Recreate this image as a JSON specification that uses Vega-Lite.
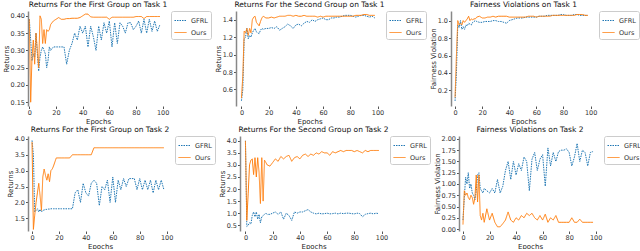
{
"$schema": "https://vega.github.io/schema/vega-lite/v6.json",
"padding": {"left": 2, "top": 1, "right": 0, "bottom": 0},
"background": "white",
"datasets": {
"p1": [
{"e":0,"GFRL":0.39,"Ours":0.39},{"e":1,"GFRL":0.33,"Ours":0.15},{"e":2,"GFRL":0.27,"Ours":0.28},{"e":3,"GFRL":0.29,"Ours":0.33},{"e":4,"GFRL":0.28,"Ours":0.26},{"e":5,"GFRL":0.35,"Ours":0.35},{"e":6,"GFRL":0.29,"Ours":0.30},{"e":7,"GFRL":0.24,"Ours":0.25},{"e":8,"GFRL":0.28,"Ours":0.40},{"e":9,"GFRL":0.30,"Ours":0.39},{"e":10,"GFRL":0.31,"Ours":0.32},{"e":11,"GFRL":0.30,"Ours":0.36},{"e":12,"GFRL":0.29,"Ours":0.32},{"e":13,"GFRL":0.25,"Ours":0.36},{"e":14,"GFRL":0.27,"Ours":0.355},{"e":15,"GFRL":0.31,"Ours":0.36},{"e":16,"GFRL":0.30,"Ours":0.375},
{"e":18,"GFRL":0.31,"Ours":0.385},{"e":20,"GFRL":0.31,"Ours":0.39},{"e":22,"GFRL":0.31,"Ours":0.395},{"e":24,"GFRL":0.31,"Ours":0.39},{"e":26,"GFRL":0.31,"Ours":0.39},{"e":28,"GFRL":0.26,"Ours":0.392},{"e":30,"GFRL":0.30,"Ours":0.392},{"e":32,"GFRL":0.32,"Ours":0.393},{"e":34,"GFRL":0.35,"Ours":0.393},{"e":36,"GFRL":0.33,"Ours":0.393},{"e":38,"GFRL":0.37,"Ours":0.395},{"e":40,"GFRL":0.35,"Ours":0.40},{"e":42,"GFRL":0.37,"Ours":0.405},{"e":44,"GFRL":0.31,"Ours":0.405},{"e":46,"GFRL":0.37,"Ours":0.397},{"e":48,"GFRL":0.34,"Ours":0.396},{"e":50,"GFRL":0.30,"Ours":0.396},{"e":52,"GFRL":0.37,"Ours":0.396},{"e":54,"GFRL":0.33,"Ours":0.396},{"e":56,"GFRL":0.38,"Ours":0.396},{"e":58,"GFRL":0.35,"Ours":0.396},{"e":60,"GFRL":0.385,"Ours":0.39},{"e":62,"GFRL":0.31,"Ours":0.396},{"e":64,"GFRL":0.38,"Ours":0.396},{"e":66,"GFRL":0.32,"Ours":0.396},{"e":68,"GFRL":0.38,"Ours":0.396},{"e":70,"GFRL":0.37,"Ours":0.396},{"e":72,"GFRL":0.35,"Ours":0.396},{"e":74,"GFRL":0.38,"Ours":0.396},{"e":76,"GFRL":0.38,"Ours":0.396},{"e":78,"GFRL":0.36,"Ours":0.396},{"e":80,"GFRL":0.37,"Ours":0.398},{"e":82,"GFRL":0.385,"Ours":0.398},{"e":84,"GFRL":0.35,"Ours":0.398},{"e":86,"GFRL":0.39,"Ours":0.392},{"e":88,"GFRL":0.35,"Ours":0.398},{"e":90,"GFRL":0.39,"Ours":0.398},{"e":92,"GFRL":0.355,"Ours":0.398},{"e":94,"GFRL":0.385,"Ours":0.398},{"e":96,"GFRL":0.355,"Ours":0.398},{"e":98,"GFRL":0.375,"Ours":0.398}
],
"p2": [
{"e":0,"GFRL":0.47,"Ours":0.50},{"e":1,"GFRL":0.60,"Ours":0.75},{"e":2,"GFRL":1.18,"Ours":1.27},{"e":3,"GFRL":1.20,"Ours":1.25},{"e":4,"GFRL":1.30,"Ours":1.30},{"e":5,"GFRL":1.18,"Ours":1.22},{"e":6,"GFRL":1.22,"Ours":1.30},{"e":7,"GFRL":1.20,"Ours":1.25},{"e":8,"GFRL":1.25,"Ours":1.40},{"e":9,"GFRL":1.28,"Ours":1.43},{"e":10,"GFRL":1.30,"Ours":1.44},{"e":11,"GFRL":1.26,"Ours":1.37},{"e":12,"GFRL":1.25,"Ours":1.35},{"e":13,"GFRL":1.24,"Ours":1.33},{"e":14,"GFRL":1.28,"Ours":1.38},{"e":15,"GFRL":1.30,"Ours":1.42},{"e":16,"GFRL":1.29,"Ours":1.44},
{"e":18,"GFRL":1.30,"Ours":1.42},{"e":20,"GFRL":1.30,"Ours":1.42},{"e":22,"GFRL":1.31,"Ours":1.43},{"e":24,"GFRL":1.30,"Ours":1.42},{"e":26,"GFRL":1.32,"Ours":1.43},{"e":28,"GFRL":1.28,"Ours":1.44},{"e":30,"GFRL":1.30,"Ours":1.44},{"e":32,"GFRL":1.32,"Ours":1.44},{"e":34,"GFRL":1.35,"Ours":1.45},{"e":36,"GFRL":1.33,"Ours":1.45},{"e":38,"GFRL":1.30,"Ours":1.44},{"e":40,"GFRL":1.34,"Ours":1.45},{"e":42,"GFRL":1.35,"Ours":1.44},{"e":44,"GFRL":1.33,"Ours":1.44},{"e":46,"GFRL":1.36,"Ours":1.45},{"e":48,"GFRL":1.38,"Ours":1.44},{"e":50,"GFRL":1.37,"Ours":1.44},{"e":52,"GFRL":1.40,"Ours":1.44},{"e":54,"GFRL":1.38,"Ours":1.44},{"e":56,"GFRL":1.40,"Ours":1.43},{"e":58,"GFRL":1.41,"Ours":1.44},{"e":60,"GFRL":1.42,"Ours":1.43},{"e":62,"GFRL":1.40,"Ours":1.44},{"e":64,"GFRL":1.40,"Ours":1.44},{"e":66,"GFRL":1.42,"Ours":1.44},{"e":68,"GFRL":1.42,"Ours":1.44},{"e":70,"GFRL":1.43,"Ours":1.44},{"e":72,"GFRL":1.43,"Ours":1.44},{"e":74,"GFRL":1.44,"Ours":1.44},{"e":76,"GFRL":1.45,"Ours":1.44},{"e":78,"GFRL":1.45,"Ours":1.44},{"e":80,"GFRL":1.45,"Ours":1.44},{"e":82,"GFRL":1.44,"Ours":1.44},{"e":84,"GFRL":1.43,"Ours":1.45},{"e":86,"GFRL":1.44,"Ours":1.45},{"e":88,"GFRL":1.45,"Ours":1.45},{"e":90,"GFRL":1.45,"Ours":1.46},{"e":92,"GFRL":1.44,"Ours":1.46},{"e":94,"GFRL":1.43,"Ours":1.45},{"e":96,"GFRL":1.44,"Ours":1.45},{"e":98,"GFRL":1.42,"Ours":1.45}
],
"p3": [
{"e":0,"GFRL":0.08,"Ours":0.12},{"e":1,"GFRL":0.40,"Ours":0.60},{"e":2,"GFRL":0.95,"Ours":1.00},{"e":3,"GFRL":0.92,"Ours":0.95},{"e":4,"GFRL":1.00,"Ours":0.97},{"e":5,"GFRL":0.90,"Ours":0.95},{"e":6,"GFRL":0.93,"Ours":1.00},{"e":7,"GFRL":0.90,"Ours":0.98},{"e":8,"GFRL":0.95,"Ours":1.00},{"e":9,"GFRL":0.94,"Ours":1.02},{"e":10,"GFRL":0.97,"Ours":1.05},{"e":11,"GFRL":0.96,"Ours":1.00},{"e":12,"GFRL":0.95,"Ours":1.02},{"e":13,"GFRL":0.98,"Ours":1.01},{"e":14,"GFRL":0.99,"Ours":1.02},{"e":15,"GFRL":1.00,"Ours":1.02},{"e":16,"GFRL":0.99,"Ours":1.04},
{"e":18,"GFRL":0.98,"Ours":1.05},{"e":20,"GFRL":0.98,"Ours":1.03},{"e":22,"GFRL":0.99,"Ours":1.03},{"e":24,"GFRL":0.99,"Ours":1.04},{"e":26,"GFRL":0.99,"Ours":1.04},{"e":28,"GFRL":1.00,"Ours":1.05},{"e":30,"GFRL":1.00,"Ours":1.04},{"e":32,"GFRL":0.99,"Ours":1.05},{"e":34,"GFRL":0.99,"Ours":1.05},{"e":36,"GFRL":0.98,"Ours":1.05},{"e":38,"GFRL":0.97,"Ours":1.05},{"e":40,"GFRL":1.00,"Ours":1.04},{"e":42,"GFRL":1.01,"Ours":1.04},{"e":44,"GFRL":1.02,"Ours":1.04},{"e":46,"GFRL":1.03,"Ours":1.04},{"e":48,"GFRL":1.03,"Ours":1.04},{"e":50,"GFRL":1.03,"Ours":1.04},{"e":52,"GFRL":1.04,"Ours":1.04},{"e":54,"GFRL":1.04,"Ours":1.05},{"e":56,"GFRL":1.04,"Ours":1.05},{"e":58,"GFRL":1.04,"Ours":1.05},{"e":60,"GFRL":1.04,"Ours":1.04},{"e":62,"GFRL":1.05,"Ours":1.05},{"e":64,"GFRL":1.05,"Ours":1.05},{"e":66,"GFRL":1.05,"Ours":1.05},{"e":68,"GFRL":1.06,"Ours":1.05},{"e":70,"GFRL":1.06,"Ours":1.05},{"e":72,"GFRL":1.06,"Ours":1.06},{"e":74,"GFRL":1.06,"Ours":1.06},{"e":76,"GFRL":1.06,"Ours":1.06},{"e":78,"GFRL":1.07,"Ours":1.06},{"e":80,"GFRL":1.07,"Ours":1.06},{"e":82,"GFRL":1.06,"Ours":1.06},{"e":84,"GFRL":1.06,"Ours":1.06},{"e":86,"GFRL":1.06,"Ours":1.06},{"e":88,"GFRL":1.07,"Ours":1.06},{"e":90,"GFRL":1.07,"Ours":1.07},{"e":92,"GFRL":1.06,"Ours":1.07},{"e":94,"GFRL":1.06,"Ours":1.07},{"e":96,"GFRL":1.06,"Ours":1.06},{"e":98,"GFRL":1.06,"Ours":1.06}
],
"p4": [
{"e":0,"GFRL":3.95,"Ours":3.90},{"e":1,"GFRL":3.50,"Ours":1.15},{"e":2,"GFRL":1.70,"Ours":1.60},{"e":3,"GFRL":1.75,"Ours":2.00},{"e":4,"GFRL":1.80,"Ours":2.30},{"e":5,"GFRL":1.70,"Ours":2.60},{"e":6,"GFRL":1.78,"Ours":2.20},{"e":7,"GFRL":1.70,"Ours":1.75},{"e":8,"GFRL":1.75,"Ours":2.80},{"e":9,"GFRL":1.76,"Ours":3.05},{"e":10,"GFRL":1.78,"Ours":2.85},{"e":11,"GFRL":1.78,"Ours":2.70},{"e":12,"GFRL":1.79,"Ours":2.90},{"e":13,"GFRL":1.79,"Ours":2.65},{"e":14,"GFRL":1.80,"Ours":3.00},{"e":15,"GFRL":1.80,"Ours":3.05},{"e":16,"GFRL":1.80,"Ours":3.15},
{"e":18,"GFRL":1.80,"Ours":3.40},{"e":20,"GFRL":1.80,"Ours":3.40},{"e":22,"GFRL":1.80,"Ours":3.40},{"e":24,"GFRL":1.80,"Ours":3.40},{"e":26,"GFRL":1.80,"Ours":3.40},{"e":28,"GFRL":1.80,"Ours":3.40},{"e":30,"GFRL":1.80,"Ours":3.50},{"e":32,"GFRL":2.30,"Ours":3.50},{"e":34,"GFRL":2.40,"Ours":3.50},{"e":36,"GFRL":2.00,"Ours":3.50},{"e":38,"GFRL":2.60,"Ours":3.50},{"e":40,"GFRL":2.30,"Ours":3.50},{"e":42,"GFRL":2.20,"Ours":3.50},{"e":44,"GFRL":2.60,"Ours":3.50},{"e":46,"GFRL":2.70,"Ours":3.72},{"e":48,"GFRL":2.60,"Ours":3.72},{"e":50,"GFRL":1.90,"Ours":3.72},{"e":52,"GFRL":2.50,"Ours":3.72},{"e":54,"GFRL":2.40,"Ours":3.72},{"e":56,"GFRL":2.70,"Ours":3.72},{"e":58,"GFRL":2.00,"Ours":3.72},{"e":60,"GFRL":2.80,"Ours":3.72},{"e":62,"GFRL":2.00,"Ours":3.72},{"e":64,"GFRL":2.70,"Ours":3.72},{"e":66,"GFRL":2.40,"Ours":3.72},{"e":68,"GFRL":2.75,"Ours":3.72},{"e":70,"GFRL":2.50,"Ours":3.72},{"e":72,"GFRL":2.75,"Ours":3.72},{"e":74,"GFRL":2.75,"Ours":3.72},{"e":76,"GFRL":2.75,"Ours":3.72},{"e":78,"GFRL":2.40,"Ours":3.72},{"e":80,"GFRL":2.75,"Ours":3.72},{"e":82,"GFRL":2.40,"Ours":3.72},{"e":84,"GFRL":2.70,"Ours":3.72},{"e":86,"GFRL":2.40,"Ours":3.72},{"e":88,"GFRL":2.70,"Ours":3.72},{"e":90,"GFRL":2.30,"Ours":3.72},{"e":92,"GFRL":2.70,"Ours":3.72},{"e":94,"GFRL":2.40,"Ours":3.72},{"e":96,"GFRL":2.70,"Ours":3.72},{"e":98,"GFRL":2.40,"Ours":3.72}
],
"p5": [
{"e":0,"GFRL":4.00,"Ours":4.00},{"e":1,"GFRL":0.45,"Ours":0.70},{"e":2,"GFRL":0.50,"Ours":1.80},{"e":3,"GFRL":0.60,"Ours":3.00},{"e":4,"GFRL":0.55,"Ours":3.20},{"e":5,"GFRL":0.90,"Ours":3.25},{"e":6,"GFRL":1.05,"Ours":2.60},{"e":7,"GFRL":0.85,"Ours":3.30},{"e":8,"GFRL":1.05,"Ours":2.50},{"e":9,"GFRL":0.75,"Ours":3.30},{"e":10,"GFRL":0.95,"Ours":2.70},{"e":11,"GFRL":0.60,"Ours":1.40},{"e":12,"GFRL":0.85,"Ours":3.30},{"e":13,"GFRL":0.90,"Ours":1.50},{"e":14,"GFRL":0.95,"Ours":3.20},{"e":15,"GFRL":1.00,"Ours":3.10},{"e":16,"GFRL":0.95,"Ours":3.00},
{"e":18,"GFRL":0.95,"Ours":2.95},{"e":20,"GFRL":1.00,"Ours":3.10},{"e":22,"GFRL":1.05,"Ours":3.25},{"e":24,"GFRL":0.95,"Ours":3.15},{"e":26,"GFRL":1.05,"Ours":3.35},{"e":28,"GFRL":0.75,"Ours":3.25},{"e":30,"GFRL":1.00,"Ours":3.35},{"e":32,"GFRL":0.90,"Ours":3.40},{"e":34,"GFRL":0.70,"Ours":3.15},{"e":36,"GFRL":1.05,"Ours":3.30},{"e":38,"GFRL":1.00,"Ours":3.35},{"e":40,"GFRL":1.05,"Ours":3.25},{"e":42,"GFRL":1.05,"Ours":3.40},{"e":44,"GFRL":1.10,"Ours":3.45},{"e":46,"GFRL":1.15,"Ours":3.35},{"e":48,"GFRL":1.05,"Ours":3.45},{"e":50,"GFRL":1.00,"Ours":3.40},{"e":52,"GFRL":0.97,"Ours":3.50},{"e":54,"GFRL":1.00,"Ours":3.45},{"e":56,"GFRL":0.97,"Ours":3.55},{"e":58,"GFRL":0.98,"Ours":3.50},{"e":60,"GFRL":1.00,"Ours":3.50},{"e":62,"GFRL":0.97,"Ours":3.40},{"e":64,"GFRL":0.98,"Ours":3.55},{"e":66,"GFRL":1.00,"Ours":3.50},{"e":68,"GFRL":0.97,"Ours":3.55},{"e":70,"GFRL":1.00,"Ours":3.60},{"e":72,"GFRL":0.98,"Ours":3.55},{"e":74,"GFRL":1.00,"Ours":3.60},{"e":76,"GFRL":1.00,"Ours":3.60},{"e":78,"GFRL":0.98,"Ours":3.60},{"e":80,"GFRL":0.97,"Ours":3.55},{"e":82,"GFRL":1.00,"Ours":3.60},{"e":84,"GFRL":0.98,"Ours":3.55},{"e":86,"GFRL":0.85,"Ours":3.50},{"e":88,"GFRL":0.95,"Ours":3.60},{"e":90,"GFRL":0.98,"Ours":3.55},{"e":92,"GFRL":1.00,"Ours":3.60},{"e":94,"GFRL":0.97,"Ours":3.60},{"e":96,"GFRL":1.00,"Ours":3.60},{"e":98,"GFRL":0.98,"Ours":3.60}
],
"p6": [
{"e":0,"GFRL":0.20,"Ours":0.10},{"e":1,"GFRL":0.70,"Ours":0.85},{"e":2,"GFRL":1.15,"Ours":0.75},{"e":3,"GFRL":1.00,"Ours":0.80},{"e":4,"GFRL":1.25,"Ours":0.70},{"e":5,"GFRL":0.90,"Ours":0.65},{"e":6,"GFRL":1.00,"Ours":0.75},{"e":7,"GFRL":0.80,"Ours":0.70},{"e":8,"GFRL":0.75,"Ours":0.55},{"e":9,"GFRL":0.65,"Ours":0.70},{"e":10,"GFRL":0.85,"Ours":1.20},{"e":11,"GFRL":1.20,"Ours":0.60},{"e":12,"GFRL":1.25,"Ours":1.20},{"e":13,"GFRL":0.90,"Ours":0.30},{"e":14,"GFRL":0.85,"Ours":0.20},{"e":15,"GFRL":0.80,"Ours":0.35},{"e":16,"GFRL":0.90,"Ours":0.15},
{"e":18,"GFRL":0.85,"Ours":0.45},{"e":20,"GFRL":0.80,"Ours":0.20},{"e":22,"GFRL":0.90,"Ours":0.35},{"e":24,"GFRL":0.80,"Ours":0.15},{"e":26,"GFRL":1.10,"Ours":0.05},{"e":28,"GFRL":0.80,"Ours":0.05},{"e":30,"GFRL":0.95,"Ours":0.12},{"e":32,"GFRL":1.30,"Ours":0.20},{"e":34,"GFRL":1.50,"Ours":0.38},{"e":36,"GFRL":1.10,"Ours":0.20},{"e":38,"GFRL":1.50,"Ours":0.15},{"e":40,"GFRL":1.20,"Ours":0.25},{"e":42,"GFRL":1.45,"Ours":0.20},{"e":44,"GFRL":1.30,"Ours":0.30},{"e":46,"GFRL":1.60,"Ours":0.25},{"e":48,"GFRL":1.50,"Ours":0.35},{"e":50,"GFRL":0.85,"Ours":0.30},{"e":52,"GFRL":1.55,"Ours":0.35},{"e":54,"GFRL":1.70,"Ours":0.25},{"e":56,"GFRL":1.30,"Ours":0.20},{"e":58,"GFRL":1.55,"Ours":0.30},{"e":60,"GFRL":1.65,"Ours":0.20},{"e":62,"GFRL":0.95,"Ours":0.33},{"e":64,"GFRL":1.80,"Ours":0.15},{"e":66,"GFRL":1.40,"Ours":0.25},{"e":68,"GFRL":1.70,"Ours":0.20},{"e":70,"GFRL":1.50,"Ours":0.30},{"e":72,"GFRL":1.72,"Ours":0.15},{"e":74,"GFRL":1.75,"Ours":0.15},{"e":76,"GFRL":1.75,"Ours":0.15},{"e":78,"GFRL":1.78,"Ours":0.15},{"e":80,"GFRL":1.70,"Ours":0.15},{"e":82,"GFRL":1.40,"Ours":0.25},{"e":84,"GFRL":1.60,"Ours":0.15},{"e":86,"GFRL":1.90,"Ours":0.15},{"e":88,"GFRL":1.50,"Ours":0.22},{"e":90,"GFRL":1.75,"Ours":0.15},{"e":92,"GFRL":1.70,"Ours":0.15},{"e":94,"GFRL":1.40,"Ours":0.15},{"e":96,"GFRL":1.70,"Ours":0.15},{"e":98,"GFRL":1.72,"Ours":0.15}
]
},
"spacing": 2,
"resolve": {"scale": {"x": "independent", "y": "independent", "color": "independent", "strokeDash": "independent"}, "legend": {"color": "independent", "strokeDash": "independent"}},
"vconcat": [
{"spacing": 2,
 "resolve": {"scale": {"x": "independent", "y": "independent", "color": "independent", "strokeDash": "independent"}, "legend": {"color": "independent", "strokeDash": "independent"}},
 "hconcat": [
 {"title": "Returns For the First Group on Task 1", "width": 140, "height": 95, "data": {"name": "p1"},
  "transform": [{"fold": ["GFRL", "Ours"], "as": ["s", "v"]}],
  "mark": {"type": "line", "strokeWidth": 1, "clip": true},
  "encoding": {
   "x": {"field": "e", "type": "quantitative", "scale": {"domain": [-1, 104], "nice": false, "zero": false}, "axis": {"values": [0, 20, 40, 60, 80, 100], "title": "Epochs"}},
   "y": {"field": "v", "type": "quantitative", "scale": {"domain": [0.139, 0.414], "nice": false, "zero": false}, "axis": {"values": [0.15, 0.2, 0.25, 0.3, 0.35, 0.4], "format": ".2f", "title": "Returns"}},
   "color": {"field": "s", "type": "nominal", "scale": {"domain": ["GFRL", "Ours"], "range": ["#1f77b4", "#ff7f0e"]}, "legend": {"title": null}},
   "strokeDash": {"field": "s", "type": "nominal", "scale": {"domain": ["GFRL", "Ours"], "range": [[1.5, 1], [1, 0]]}, "legend": {"title": null}}}},
 {"title": "Returns For the Second Group on Task 1", "width": 147, "height": 95, "data": {"name": "p2"},
  "transform": [{"fold": ["GFRL", "Ours"], "as": ["s", "v"]}],
  "mark": {"type": "line", "strokeWidth": 1, "clip": true},
  "encoding": {
   "x": {"field": "e", "type": "quantitative", "scale": {"domain": [-4, 104], "nice": false, "zero": false}, "axis": {"values": [0, 20, 40, 60, 80, 100], "title": "Epochs"}},
   "y": {"field": "v", "type": "quantitative", "scale": {"domain": [0.41, 1.5], "nice": false, "zero": false}, "axis": {"values": [0.6, 0.8, 1.0, 1.2, 1.4], "format": ".1f", "title": "Returns"}},
   "color": {"field": "s", "type": "nominal", "scale": {"domain": ["GFRL", "Ours"], "range": ["#1f77b4", "#ff7f0e"]}, "legend": {"title": null}},
   "strokeDash": {"field": "s", "type": "nominal", "scale": {"domain": ["GFRL", "Ours"], "range": [[1.5, 1], [1, 0]]}, "legend": {"title": null}}}},
 {"title": "Fairness Violations on Task 1", "width": 145, "height": 95, "data": {"name": "p3"},
  "transform": [{"fold": ["GFRL", "Ours"], "as": ["s", "v"]}],
  "mark": {"type": "line", "strokeWidth": 1, "clip": true},
  "encoding": {
   "x": {"field": "e", "type": "quantitative", "scale": {"domain": [-3, 104], "nice": false, "zero": false}, "axis": {"values": [0, 20, 40, 60, 80, 100], "title": "Epochs"}},
   "y": {"field": "v", "type": "quantitative", "scale": {"domain": [0.022, 1.11], "nice": false, "zero": false}, "axis": {"values": [0.2, 0.4, 0.6, 0.8, 1.0], "format": ".1f", "title": "Fairness Violation"}},
   "color": {"field": "s", "type": "nominal", "scale": {"domain": ["GFRL", "Ours"], "range": ["#1f77b4", "#ff7f0e"]}, "legend": {"title": null}},
   "strokeDash": {"field": "s", "type": "nominal", "scale": {"domain": ["GFRL", "Ours"], "range": [[1.5, 1], [1, 0]]}, "legend": {"title": null}}}}
 ]},
{"spacing": 2,
 "resolve": {"scale": {"x": "independent", "y": "independent", "color": "independent", "strokeDash": "independent"}, "legend": {"color": "independent", "strokeDash": "independent"}},
 "hconcat": [
 {"title": "Returns For the First Group on Task 2", "width": 144, "height": 95, "data": {"name": "p4"},
  "transform": [{"fold": ["GFRL", "Ours"], "as": ["s", "v"]}],
  "mark": {"type": "line", "strokeWidth": 1, "clip": true},
  "encoding": {
   "x": {"field": "e", "type": "quantitative", "scale": {"domain": [-3, 104], "nice": false, "zero": false}, "axis": {"values": [0, 20, 40, 60, 80, 100], "title": "Epochs"}},
   "y": {"field": "v", "type": "quantitative", "scale": {"domain": [1.1, 4.09], "nice": false, "zero": false}, "axis": {"values": [1.5, 2.0, 2.5, 3.0, 3.5, 4.0], "format": ".1f", "title": "Returns"}},
   "color": {"field": "s", "type": "nominal", "scale": {"domain": ["GFRL", "Ours"], "range": ["#1f77b4", "#ff7f0e"]}, "legend": {"title": null}},
   "strokeDash": {"field": "s", "type": "nominal", "scale": {"domain": ["GFRL", "Ours"], "range": [[1.5, 1], [1, 0]]}, "legend": {"title": null}}}},
 {"title": "Returns For the Second Group on Task 2", "width": 147, "height": 95, "data": {"name": "p5"},
  "transform": [{"fold": ["GFRL", "Ours"], "as": ["s", "v"]}],
  "mark": {"type": "line", "strokeWidth": 1, "clip": true},
  "encoding": {
   "x": {"field": "e", "type": "quantitative", "scale": {"domain": [-4, 104], "nice": false, "zero": false}, "axis": {"values": [0, 20, 40, 60, 80, 100], "title": "Epochs"}},
   "y": {"field": "v", "type": "quantitative", "scale": {"domain": [0.26, 4.2], "nice": false, "zero": false}, "axis": {"values": [0.5, 1.0, 1.5, 2.0, 2.5, 3.0, 3.5, 4.0], "format": ".1f", "title": "Returns"}},
   "color": {"field": "s", "type": "nominal", "scale": {"domain": ["GFRL", "Ours"], "range": ["#1f77b4", "#ff7f0e"]}, "legend": {"title": null}},
   "strokeDash": {"field": "s", "type": "nominal", "scale": {"domain": ["GFRL", "Ours"], "range": [[1.5, 1], [1, 0]]}, "legend": {"title": null}}}},
 {"title": "Fairness Violations on Task 2", "width": 142, "height": 95, "data": {"name": "p6"},
  "transform": [{"fold": ["GFRL", "Ours"], "as": ["s", "v"]}],
  "mark": {"type": "line", "strokeWidth": 1, "clip": true},
  "encoding": {
   "x": {"field": "e", "type": "quantitative", "scale": {"domain": [-3, 104], "nice": false, "zero": false}, "axis": {"values": [0, 20, 40, 60, 80, 100], "title": "Epochs"}},
   "y": {"field": "v", "type": "quantitative", "scale": {"domain": [-0.043, 2.065], "nice": false, "zero": false}, "axis": {"values": [0, 0.25, 0.5, 0.75, 1.0, 1.25, 1.5, 1.75, 2.0], "format": ".2f", "title": "Fairness Violation"}},
   "color": {"field": "s", "type": "nominal", "scale": {"domain": ["GFRL", "Ours"], "range": ["#1f77b4", "#ff7f0e"]}, "legend": {"title": null}},
   "strokeDash": {"field": "s", "type": "nominal", "scale": {"domain": ["GFRL", "Ours"], "range": [[1.5, 1], [1, 0]]}, "legend": {"title": null}}}}
 ]}
],
"config": {
 "font": "DejaVu Sans",
 "view": {"stroke": null},
 "axis": {"labelFontSize": 6.5, "titleFontSize": 7, "grid": false, "tickSize": 2.5, "labelColor": "#333", "titleColor": "#222", "titleFontWeight": "normal", "domainColor": "#888", "tickColor": "#555", "labelPadding": 1, "titlePadding": 1},
 "axisX": {"domain": false},
 "axisY": {"domainWidth": 1.5},
 "title": {"fontSize": 7.5, "fontWeight": "normal", "offset": 2, "frame": "group", "color": "#111"},
 "legend": {"labelFontSize": 6.5, "symbolType": "stroke", "symbolSize": 144, "symbolStrokeWidth": 1, "strokeColor": "#ccc", "padding": 3, "cornerRadius": 2, "offset": 3, "rowPadding": 2, "labelColor": "#333"}
}
}
